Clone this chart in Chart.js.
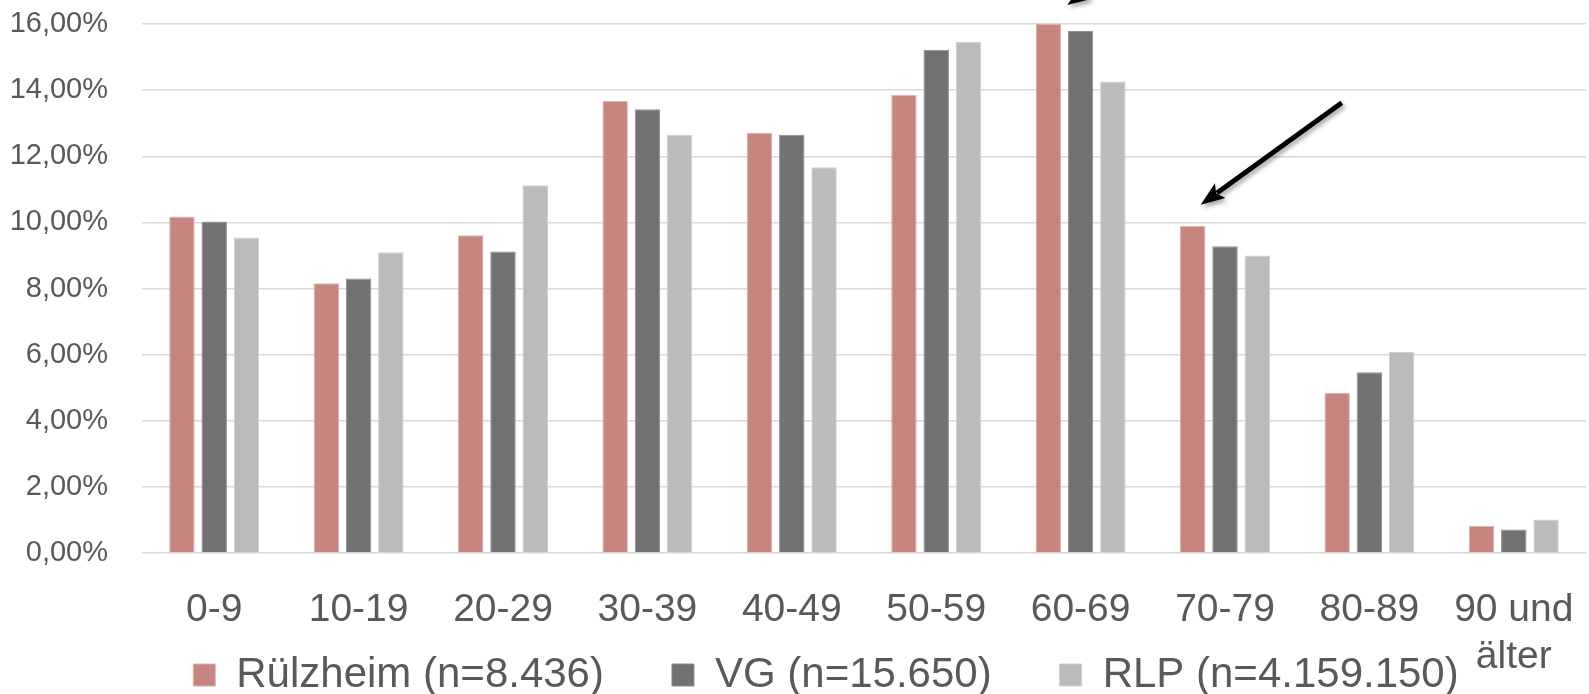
<!DOCTYPE html>
<html><head><meta charset="utf-8">
<script src="https://cdn.jsdelivr.net/npm/chart.js@4.4.0/dist/chart.umd.min.js"></script>
<style>html,body{margin:0;padding:0;background:#fff}#wrap{width:1589px;height:694px;position:relative}</style>
</head><body><div id="wrap"><canvas id="c"></canvas></div>
<script>
const categories = ['0-9','10-19','20-29','30-39','40-49','50-59','60-69','70-79','80-89',['90 und','älter']];
const seriesLabels = ['Rülzheim (n=8.436)','VG (n=15.650)','RLP (n=4.159.150)'];
const ruelzheim = [10.18, 8.16, 9.61, 13.67, 12.71, 13.86, 16.00, 9.90, 4.85, 0.82];
const vg        = [10.03, 8.30, 9.12, 13.42, 12.65, 15.22, 15.79, 9.28, 5.47, 0.71];
const rlp       = [ 9.54, 9.10, 11.12, 12.65, 11.67, 15.46, 14.26, 9.00, 6.08, 1.01];
const yTicks = [0, 2, 4, 6, 8, 10, 12, 14, 16];

const colors = ['#C6857F', '#717171', '#BBBBBB'];
const borders = ['#DDB3AF', '#8E8E8E', '#D0D0D0'];
const textColor = '#595959';
const narrow = "'Liberation Sans Narrow', 'Liberation Sans', sans-serif";
const regular = "'Liberation Sans', Arial, sans-serif";

const layoutTweak = {
  id: 'layoutTweak',
  afterLayout(chart) {
    const lg = chart.legend;
    if (lg) {
      const dx = 33, dy = 12;
      lg.left += dx; lg.right += dx; lg.top += dy; lg.bottom += dy;
    }
    const xs = chart.scales.x;
    xs.bottom = chart.height; xs.height = xs.bottom - xs.top;
  }
};

const arrowPlugin = {
  id: 'arrows',
  afterDraw(chart) {
    const ctx = chart.ctx;
    const meta = chart.getDatasetMeta(0);
    const drawArrow = (tx, ty, sx, sy) => {
      const ang = Math.atan2(ty - sy, tx - sx);
      const headLen = 24, headHalf = 9;
      const bx = tx - headLen * Math.cos(ang), by = ty - headLen * Math.sin(ang);
      ctx.save();
      ctx.shadowColor = 'rgba(0,0,0,0.35)';
      ctx.shadowBlur = 4; ctx.shadowOffsetX = 2; ctx.shadowOffsetY = 3;
      ctx.strokeStyle = '#000'; ctx.fillStyle = '#000';
      ctx.lineWidth = 5; ctx.lineCap = 'butt';
      ctx.beginPath(); ctx.moveTo(sx, sy); ctx.lineTo(bx + 4 * Math.cos(ang), by + 4 * Math.sin(ang)); ctx.stroke();
      ctx.beginPath();
      ctx.moveTo(tx, ty);
      ctx.lineTo(bx - headHalf * Math.sin(ang), by + headHalf * Math.cos(ang));
      ctx.lineTo(bx + 5 * Math.cos(ang), by + 5 * Math.sin(ang));
      ctx.lineTo(bx + headHalf * Math.sin(ang), by - headHalf * Math.cos(ang));
      ctx.closePath(); ctx.fill();
      ctx.restore();
    };
    const b6 = meta.data[6], b7 = meta.data[7];
    drawArrow(b6.x + 19, b6.y - 19, b6.x + 19 + 211, b6.y - 19 - 147);
    drawArrow(b7.x + 8, b7.y - 21, b7.x + 149, b7.y - 123);
  }
};

const mk = (label, data, i) => ({
  label, data,
  backgroundColor: colors[i], borderColor: borders[i], borderWidth: 1,
  categoryPercentage: 0.67, barPercentage: 0.79
});

new Chart(document.getElementById('c'), {
  type: 'bar',
  data: {
    labels: categories,
    datasets: [mk(seriesLabels[0], ruelzheim, 0), mk(seriesLabels[1], vg, 1), mk(seriesLabels[2], rlp, 2)]
  },
  options: {
    responsive: true, maintainAspectRatio: false, animation: false,
    layout: { padding: { top: 24, right: 3, left: 0, bottom: 0 } },
    plugins: {
      tooltip: { enabled: false },
      legend: {
        position: 'bottom',
        labels: {
          boxWidth: 22, boxHeight: 22, padding: 68, color: textColor,
          font: { family: regular, size: 42 }
        }
      }
    },
    scales: {
      x: {
        grid: { display: false, drawTicks: false },
        border: { display: false },
        ticks: { color: textColor, padding: 34, maxRotation: 0, autoSkip: false,
          font: { family: narrow, size: 39, lineHeight: 1.2 } },
        afterFit(scale) { scale.height = 21; scale.paddingLeft = 0; scale.paddingRight = 0; }
      },
      y: {
        min: 0, max: 16,
        afterBuildTicks(scale) { scale.ticks = yTicks.map(v => ({ value: v })); },
        grid: { color: '#D9D9D9', lineWidth: 1.5, drawTicks: false },
        border: { display: false },
        ticks: { color: textColor, padding: 34,
          font: { family: narrow, size: 29 },
          callback: v => v.toFixed(2).replace('.', ',') + '%' },
        afterFit(scale) { scale.width = 142; scale.paddingTop = 0; scale.paddingBottom = 0; }
      }
    }
  },
  plugins: [layoutTweak, arrowPlugin]
});
</script>
</body></html>
